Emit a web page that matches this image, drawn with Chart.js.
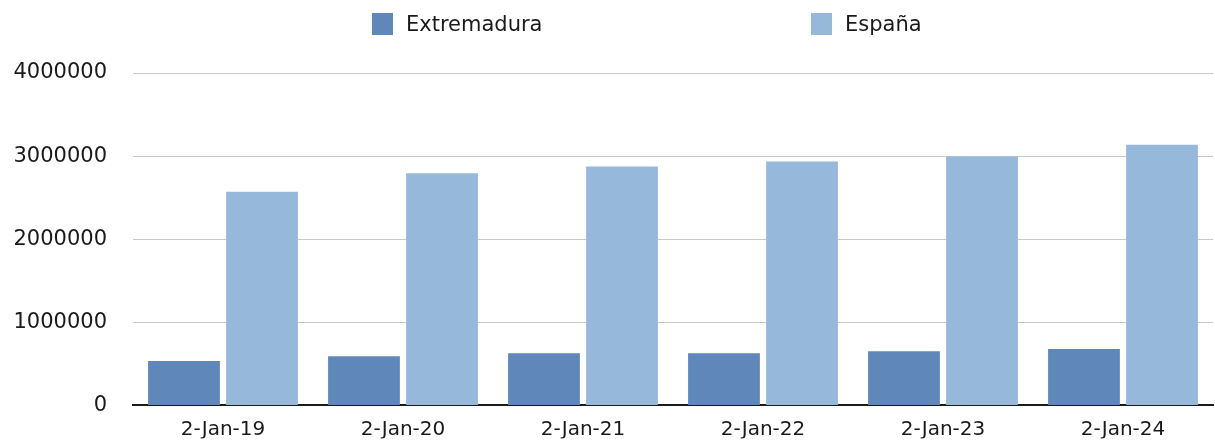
<!DOCTYPE html>
<html>
<head>
<meta charset="utf-8">
<script src="https://cdn.jsdelivr.net/npm/chart.js@4"></script>
<style>
  html, body { margin: 0; padding: 0; background: #fff; overflow: hidden; }
  #wrap { position: relative; width: 1215px; height: 444px; }
  #chart { display: block; }
  #legend { position: absolute; top: 0; left: 0; width: 1215px; height: 50px; font-family: "DejaVu Sans", sans-serif; font-size: 21px; color: #1a1a1a; }
  .item { position: absolute; top: 13px; height: 22px; line-height: 22px; white-space: nowrap; }
  .item span.box { display: inline-block; width: 21px; height: 22px; vertical-align: top; margin-right: 13px; }
</style>
</head>
<body>
<div id="wrap">
  <canvas id="chart" width="1215" height="444"></canvas>
  <div id="legend"></div>
</div>
<script>
const categories = ['2-Jan-19', '2-Jan-20', '2-Jan-21', '2-Jan-22', '2-Jan-23', '2-Jan-24'];
const extremadura = [534000, 592000, 627000, 627000, 651000, 678000];
const espana = [2570000, 2793000, 2876000, 2935000, 2996000, 3136000];
const seriesNames = ['Extremadura', 'España'];
const seriesColors = ['#5f87b9', '#96b8db'];
const yTicks = [0, 1000000, 2000000, 3000000, 4000000];

const font = { family: '"DejaVu Sans", sans-serif', size: 20 };

const chart = new Chart(document.getElementById('chart'), {
    type: 'bar',
    data: {
        labels: categories,
        datasets: [
            { label: seriesNames[0], data: extremadura, backgroundColor: seriesColors[0] },
            { label: seriesNames[1], data: espana, backgroundColor: seriesColors[1] }
        ]
    },
    options: {
        responsive: false,
        animation: false,
        layout: { padding: { top: 73, right: 2, left: 0, bottom: 0 } },
        datasets: { bar: { categoryPercentage: 0.867, barPercentage: 0.92 } },
        plugins: { legend: { display: false }, tooltip: { enabled: false } },
        scales: {
            x: {
                afterFit: axis => { axis.height = 33; },
                grid: { display: false, drawTicks: false },
                border: { display: true, color: '#1a1a1a', width: 2 },
                ticks: { color: '#1a1a1a', font: font, padding: 12, maxRotation: 0 }
            },
            y: {
                min: yTicks[0],
                max: yTicks[yTicks.length - 1],
                afterBuildTicks: axis => { axis.ticks = yTicks.map(v => ({ value: v })); },
                afterFit: axis => { axis.width = 133; },
                grid: { color: '#c8c8c8', lineWidth: 1, drawTicks: false },
                border: { display: false },
                ticks: { color: '#1a1a1a', font: { family: font.family, size: 21 }, padding: 26, callback: v => String(v) }
            }
        }
    }
});

// legend built from the datasets, placed like the original
const legendPos = [372, 811];
const legendEl = document.getElementById('legend');
chart.data.datasets.forEach((ds, i) => {
    const item = document.createElement('div');
    item.className = 'item';
    item.style.left = legendPos[i] + 'px';
    item.innerHTML = '<span class="box" style="background:' + ds.backgroundColor + '"></span>' + ds.label;
    legendEl.appendChild(item);
});
</script>
</body>
</html>
